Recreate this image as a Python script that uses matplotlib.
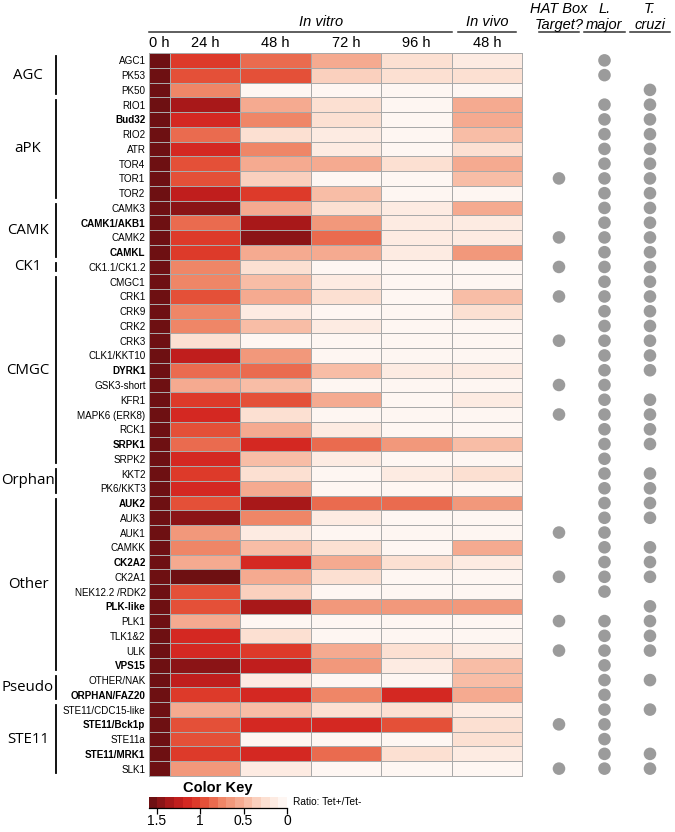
#!/usr/bin/env python3
"""Kinase RNAi knockdown heatmap with ortholog / HAT box annotations."""

import matplotlib

matplotlib.use("Agg")
import matplotlib.pyplot as plt
import matplotlib.transforms as mtransforms
import numpy as np
from matplotlib.colors import BoundaryNorm, LinearSegmentedColormap

kinases = [
    "AGC1", "PK53", "PK50", "RIO1", "Bud32", "RIO2", "ATR", "TOR4", "TOR1", "TOR2",
    "CAMK3", "CAMK1/AKB1", "CAMK2", "CAMKL", "CK1.1/CK1.2", "CMGC1", "CRK1", "CRK9",
    "CRK2", "CRK3", "CLK1/KKT10", "DYRK1", "GSK3-short", "KFR1", "MAPK6 (ERK8)",
    "RCK1", "SRPK1", "SRPK2", "KKT2", "PK6/KKT3", "AUK2", "AUK3", "AUK1", "CAMKK",
    "CK2A2", "CK2A1", "NEK12.2 /RDK2", "PLK-like", "PLK1", "TLK1&2", "ULK", "VPS15",
    "OTHER/NAK", "ORPHAN/FAZ20", "STE11/CDC15-like", "STE11/Bck1p", "STE11a",
    "STE11/MRK1", "SLK1",
]
bold_kinases = ["Bud32", "CAMK1/AKB1", "CAMKL", "DYRK1", "SRPK1", "AUK2", "CK2A2",
                "PLK-like", "VPS15", "ORPHAN/FAZ20", "STE11/Bck1p", "STE11/MRK1"]

# (family, first row, last row)
families = [
    ("AGC", 0, 2), ("aPK", 3, 9), ("CAMK", 10, 13), ("CK1", 14, 14),
    ("CMGC", 15, 27), ("Orphan", 28, 29), ("Other", 30, 41),
    ("Pseudo", 42, 43), ("STE11", 44, 48),
]

time_labels = ["0 h", "24 h", "48 h", "72 h", "96 h", "48 h"]

ratio_0h = [1.55] * 49
ratio_24h = [1.05, 0.95, 0.75, 1.35, 1.15, 0.85, 1.15, 0.95, 0.95, 1.25,
             1.45, 0.85, 1.05, 1.05, 0.75, 0.75, 0.95, 0.75, 0.75, 0.25,
             1.25, 0.85, 0.6, 1.05, 1.15, 0.95, 0.85, 1.15, 1.05, 1.2,
             0.95, 1.45, 0.7, 0.75, 0.6, 1.5, 0.95, 0.95, 0.6, 1.15,
             1.15, 1.45, 1.25, 1.05, 0.5, 0.95, 0.95, 1.05, 0.7]
ratio_48h = [0.85, 0.95, 0.03, 0.5, 0.75, 0.25, 0.75, 0.6, 0.35, 1.05,
             0.6, 1.3, 1.45, 0.6, 0.25, 0.4, 0.5, 0.15, 0.4, 0.03,
             0.65, 0.85, 0.4, 0.95, 0.2, 0.6, 1.1, 0.4, 0.3, 0.6,
             1.3, 0.75, 0.15, 0.4, 1.15, 0.6, 0.35, 1.35, 0.05, 0.3,
             1.05, 1.25, 0.15, 1.15, 0.45, 1.15, 0.05, 1.15, 0.15]
ratio_72h = [0.5, 0.35, 0.05, 0.25, 0.22, 0.15, 0.15, 0.5, 0.05, 0.4,
             0.2, 0.65, 0.85, 0.5, 0.05, 0.1, 0.2, 0.05, 0.15, 0.05,
             0.08, 0.45, 0.05, 0.55, 0.05, 0.15, 0.8, 0.15, 0.08, 0.08,
             0.85, 0.15, 0.05, 0.2, 0.5, 0.3, 0.05, 0.7, 0.05, 0.05,
             0.55, 0.65, 0.05, 0.75, 0.3, 1.15, 0.05, 0.8, 0.05]
ratio_96h = [0.2, 0.25, 0.05, 0.05, 0.05, 0.05, 0.05, 0.3, 0.05, 0.05,
             0.1, 0.15, 0.15, 0.12, 0.05, 0.05, 0.05, 0.05, 0.05, 0.05,
             0.05, 0.15, 0.05, 0.05, 0.05, 0.05, 0.65, 0.05, 0.15, 0.05,
             0.85, 0.05, 0.05, 0.05, 0.3, 0.05, 0.05, 0.65, 0.05, 0.05,
             0.25, 0.15, 0.05, 1.15, 0.2, 0.95, 0.05, 0.25, 0.05]
ratio_vivo = [0.1, 0.25, 0.05, 0.5, 0.5, 0.4, 0.2, 0.5, 0.4, 0.08,
              0.5, 0.15, 0.15, 0.65, 0.05, 0.05, 0.45, 0.2, 0.08, 0.05,
              0.05, 0.1, 0.05, 0.15, 0.05, 0.05, 0.45, 0.05, 0.25, 0.05,
              0.65, 0.05, 0.05, 0.55, 0.15, 0.05, 0.05, 0.65, 0.05, 0.05,
              0.15, 0.45, 0.45, 0.55, 0.15, 0.25, 0.2, 0.15, 0.05]

hat_box = [0, 0, 0, 0, 0, 0, 0, 0, 1, 0, 0, 0, 1, 0, 1, 0, 1, 0, 0, 1,
           0, 0, 1, 0, 1, 0, 0, 0, 0, 0, 0, 0, 1, 0, 0, 1, 0, 0, 1, 0,
           1, 0, 0, 0, 0, 1, 0, 0, 1]
l_major = [1, 1, 0, 1, 1, 1, 1, 1, 1, 1, 1, 1, 1, 1, 1, 1, 1, 1, 1, 1,
           1, 1, 1, 1, 1, 1, 1, 1, 1, 1, 1, 1, 1, 1, 1, 1, 1, 0, 1, 1,
           1, 1, 1, 1, 1, 1, 1, 1, 1]
t_cruzi = [0, 0, 1, 1, 1, 1, 1, 1, 1, 1, 1, 1, 1, 1, 1, 1, 1, 1, 1, 1,
           1, 1, 0, 1, 1, 1, 1, 0, 1, 1, 1, 1, 0, 1, 1, 1, 0, 1, 1, 1,
           1, 0, 1, 0, 1, 0, 0, 1, 1]
dot_headers = ["HAT Box\nTarget?", "L.\nmajor", "T.\ncruzi"]


def main() -> int:
    W, H = 675, 832
    fig = plt.figure(figsize=(W / 100, H / 100), dpi=100)

    def fx(px):
        return px / W

    def fy(px):
        return 1 - px / H

    colors = ["#fef6f2", "#fcdccd", "#f6b096", "#ef8566", "#e2462f",
              "#d22320", "#a51719", "#6e1012"]
    stops = [0, 0.25, 0.5, 0.75, 1.0, 1.2, 1.4, 1.6]
    cmap = LinearSegmentedColormap.from_list(
        "key", [(s / 1.6, c) for s, c in zip(stops, colors)])
    levels = np.linspace(0, 1.6, 17)
    norm = BoundaryNorm(levels, cmap.N)

    n = len(kinases)
    data = np.column_stack([ratio_0h, ratio_24h, ratio_48h, ratio_72h,
                            ratio_96h, ratio_vivo])
    x_edges = np.concatenate([[0], 0.3 + np.arange(6)])
    narrow = ["Liberation Sans Narrow", "Liberation Sans"]

    # heatmap
    top, bottom = 53, 776
    ax = fig.add_axes([fx(149), fy(bottom), fx(522 - 149), (bottom - top) / H])
    ax.pcolormesh(x_edges, np.arange(n + 1), data, cmap=cmap, norm=norm,
                  edgecolors="#a9a9a9", linewidth=0.7)
    ax.set_xlim(0, x_edges[-1])
    ax.set_ylim(n, 0)
    ax.set_xticks([])
    ax.set_yticks(np.arange(n) + 0.5)
    ax.set_yticklabels(kinases, fontsize=7.1, family="Liberation Sans")
    for lbl in ax.get_yticklabels():
        if lbl.get_text() in bold_kinases:
            lbl.set_fontweight("bold")
    ax.tick_params(axis="y", length=0, pad=2.5)
    for s in ax.spines.values():
        s.set_color("#a9a9a9")
        s.set_linewidth(0.7)

    # column headers
    tr_x = mtransforms.blended_transform_factory(ax.transData, fig.transFigure)
    centers = (x_edges[:-1] + x_edges[1:]) / 2
    for xc, lab in zip(centers, time_labels):
        ax.text(xc, fy(43), lab, transform=tr_x, ha="center", va="center",
                fontsize=10.5, family=narrow)
    head_font = dict(fontsize=10.5, style="italic", family=narrow)
    ax.text(x_edges[1] + 2.5 - 0.35, fy(22), "In vitro", transform=tr_x,
            ha="center", va="center", **head_font)
    ax.plot([0, 4.3], [fy(32)] * 2, transform=tr_x, color="#333333",
            lw=1.1, clip_on=False)
    ax.text(centers[-1], fy(22), "In vivo", transform=tr_x, ha="center",
            va="center", **head_font)
    ax.plot([4.39, 5.22], [fy(32)] * 2, transform=tr_x, color="#333333",
            lw=1.1, clip_on=False)

    # family brackets
    tr_y = mtransforms.blended_transform_factory(fig.transFigure, ax.transData)
    for name, r0, r1 in families:
        ax.plot([fx(56), fx(56)], [r0 + 0.2, r1 + 0.8], transform=tr_y,
                color="black", lw=1.3, clip_on=False)
        ax.text(fx(28), (r0 + r1 + 1) / 2, name, transform=tr_y, ha="center",
                va="center", fontsize=10.8, family="Open Sans")

    # dot columns
    dx = fig.add_axes([fx(522), fy(bottom), fx(675 - 522), (bottom - top) / H])
    dx.set_xlim(-0.813, 2.55)
    dx.set_ylim(n, 0)
    dx.axis("off")
    rows = np.arange(n) + 0.5
    for col, flags in enumerate([hat_box, l_major, t_cruzi]):
        flags = np.array(flags, dtype=bool)
        dx.scatter(np.full(flags.sum(), col), rows[flags], s=82,
                   color="#9b9b9b", edgecolors="none", clip_on=False)
    tr_d = mtransforms.blended_transform_factory(dx.transData, fig.transFigure)
    for col, lab in enumerate(dot_headers):
        dx.text(col, fy(17), lab, transform=tr_d, ha="center", va="center",
                linespacing=1.1, **head_font)
        dx.plot([col - 0.5 + 0.06, col + 0.5 - 0.06], [fy(32)] * 2,
                transform=tr_d, color="#333333", lw=1.1, clip_on=False)

    # color key
    kx = fig.add_axes([fx(149), fy(808), fx(287 - 149), 11 / H])
    kc = (levels[:-1] + levels[1:]) / 2
    kx.pcolormesh(levels, [0, 1], kc[np.newaxis, :], cmap=cmap, norm=norm)
    kx.set_xlim(1.59, 0)
    kx.set_ylim(0, 1)
    kx.set_yticks([])
    kx.set_xticks([1.5, 1, 0.5, 0])
    kx.set_xticklabels(["1.5", "1", "0.5", "0"], fontsize=10,
                       family="Liberation Sans")
    kx.tick_params(axis="x", length=4, width=0.9, pad=0.5)
    for side in ["top", "left", "right"]:
        kx.spines[side].set_visible(False)
    kx.spines["bottom"].set_linewidth(0.9)
    fig.text(fx(218), fy(788), "Color Key", ha="center", va="center",
             fontsize=10.5, fontweight="bold", family="Liberation Sans")
    fig.text(fx(293), fy(802), "Ratio: Tet+/Tet-", ha="left", va="center",
             fontsize=7.3, family="Liberation Sans")

    fig.savefig("out.png", dpi=100)
    return 0


if __name__ == "__main__":
    raise SystemExit(main())
